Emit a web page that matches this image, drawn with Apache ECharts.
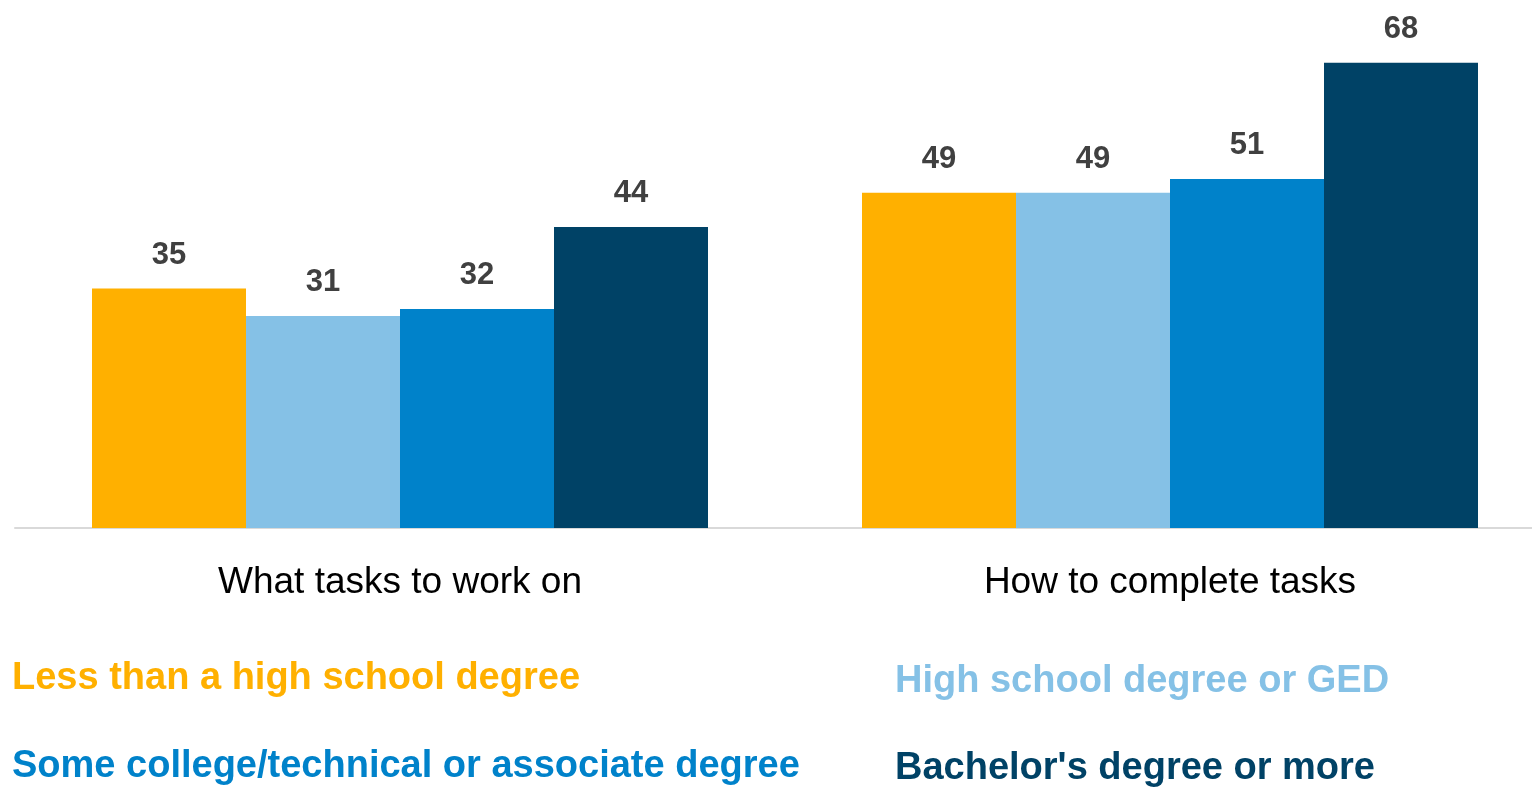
<!DOCTYPE html>
<html>
<head>
<meta charset="utf-8">
<script src="https://cdn.jsdelivr.net/npm/echarts@6/dist/echarts.min.js"></script>
<style>
  html, body { margin: 0; padding: 0; background: #fff; }
  #chart { width: 1532px; height: 789px; }
</style>
</head>
<body>
<div id="chart"></div>
<script>
// categories on the x axis
var categories = ['What tasks to work on', 'How to complete tasks'];

// one array per education level
var lessThanHS = [35, 49];
var highSchool = [31, 49];
var someCollege = [32, 51];
var bachelors = [44, 68];

var seriesNames = [
  'Less than a high school degree',
  'High school degree or GED',
  'Some college/technical or associate degree',
  "Bachelor's degree or more"
];
var seriesColors = ['#FFB000', '#85C1E6', '#0082CA', '#004266'];
var seriesData = [lessThanHS, highSchool, someCollege, bachelors];

// legend spots (2 x 2)
var legendPos = [
  { left: 2, top: 655 },
  { left: 885, top: 658 },
  { left: 2, top: 743 },
  { left: 885, top: 745 }
];

var chart = echarts.init(document.getElementById('chart'));

var series = seriesData.map(function (d, i) {
  return {
    name: seriesNames[i],
    type: 'bar',
    data: d,
    barGap: 0,
    barCategoryGap: '20%',
    itemStyle: { color: seriesColors[i] },
    label: {
      show: true,
      position: 'top',
      distance: 18,
      color: '#404040',
      fontFamily: 'Liberation Sans, Arial',
      fontWeight: 'bold',
      fontSize: 31
    }
  };
});

var legends = seriesNames.map(function (n, i) {
  return {
    left: legendPos[i].left,
    top: legendPos[i].top,
    data: [n],
    selectedMode: false,
    itemWidth: 0,
    itemHeight: 0,
    itemGap: 0,
    textStyle: {
      color: seriesColors[i],
      fontFamily: 'Liberation Sans, Arial',
      fontWeight: 'bold',
      fontSize: 38
    }
  };
});

chart.setOption({
  animation: false,
  backgroundColor: '#fff',
  grid: {
    left: 15, width: 1540, top: 8, bottom: 261,
    containLabel: false, outerBoundsMode: 'none'
  },
  legend: legends,
  xAxis: {
    type: 'category',
    data: categories,
    axisTick: { show: false },
    axisLine: { lineStyle: { color: '#d9d9d9', width: 2 } },
    axisLabel: {
      margin: 36,
      color: '#000',
      fontFamily: 'Liberation Sans, Arial',
      fontSize: 37
    }
  },
  yAxis: {
    type: 'value',
    min: 0,
    max: 76,
    show: false,
    splitLine: { show: false }
  },
  series: series
});
</script>
</body>
</html>
